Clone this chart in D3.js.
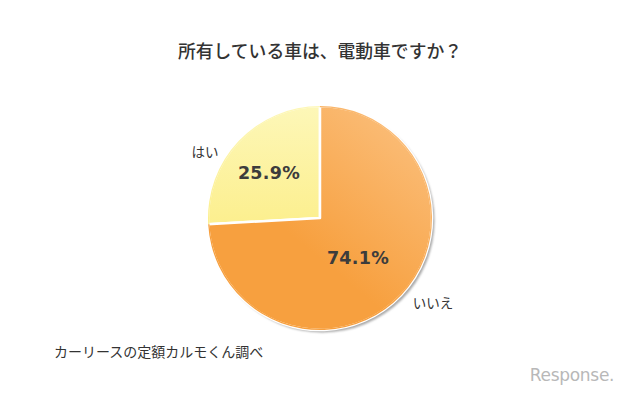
<!DOCTYPE html>
<html><head><meta charset="utf-8">
<script src="https://cdn.jsdelivr.net/npm/d3@7"></script>
<style>body{margin:0;background:#fff;}svg{display:block;}</style>
</head><body>
<script>
const categories = ["はい", "いいえ"];
const values = [25.9, 74.1];
const valueLabels = ["25.9%", "74.1%"];
const title = "所有している車は、電動車ですか？";
const source = "カーリースの定額カルモくん調べ";

const W = 640, H = 393;
const svg = d3.select("body").append("svg").attr("width", W).attr("height", H);
const defs = svg.append("defs");
const cx = 320, cy = 218, r = 112;

const gY = defs.append("linearGradient").attr("id","gY").attr("x1","0").attr("y1","0").attr("x2","0").attr("y2","1");
gY.append("stop").attr("offset","0").attr("stop-color","#fdf7b8");
gY.append("stop").attr("offset","1").attr("stop-color","#fcef8e");
const gO = defs.append("linearGradient").attr("id","gO").attr("x1","0.9").attr("y1","0").attr("x2","0.4").attr("y2","0.6");
gO.append("stop").attr("offset","0").attr("stop-color","#fbc07e");
gO.append("stop").attr("offset","1").attr("stop-color","#f7a03f");
const blur = defs.append("filter").attr("id","sh").attr("x","-10%").attr("y","-10%").attr("width","120%").attr("height","120%");
blur.append("feGaussianBlur").attr("stdDeviation", 1.2);

svg.append("text").attr("x", 320).attr("y", 58).attr("text-anchor","middle")
  .attr("font-family","Noto Sans CJK JP").attr("font-weight", 500).attr("font-size", 17.8).attr("fill","#333")
  .text(title);

const pie = d3.pie().sort(null).value(d => d)
  .startAngle(0).endAngle(-2*Math.PI);
const arcs = pie(values);
const arc = d3.arc().innerRadius(0).outerRadius(r);

const g = svg.append("g").attr("transform", `translate(${cx},${cy})`);
g.append("circle").attr("cx", 2.5).attr("cy", 2.5).attr("r", r).attr("fill","#a8a8a8").attr("filter","url(#sh)");
const fills = ["url(#gY)", "url(#gO)"];
g.selectAll("path.s").data(arcs).join("path").attr("class","s")
  .attr("d", arc).attr("fill", (d,i) => fills[i]).attr("stroke","#fff").attr("stroke-width", 2.5).attr("stroke-linejoin","round");
g.selectAll("path.o").data(arcs).join("path").attr("class","o")
  .attr("d", d3.arc().innerRadius(r-1.3).outerRadius(r)).attr("fill", (d,i) => fills[i]);

const pctPos = [[-51, -45], [38, 40]];
g.selectAll("text.p").data(arcs).join("text").attr("class","p")
  .attr("x", (d,i) => pctPos[i][0]).attr("y", (d,i) => pctPos[i][1])
  .attr("text-anchor","middle").attr("dominant-baseline","central")
  .attr("font-family","DejaVu Sans").attr("font-weight", 700).attr("font-size", 17.5).attr("fill","#3c3c3c")
  .attr("letter-spacing", 0.3)
  .text((d,i) => valueLabels[i]);

const catPos = [[205, 151], [433, 302]];
svg.selectAll("text.c").data(categories).join("text").attr("class","c")
  .attr("x", (d,i) => catPos[i][0]).attr("y", (d,i) => catPos[i][1])
  .attr("text-anchor","middle").attr("dominant-baseline","central")
  .attr("font-family","Noto Sans CJK JP").attr("font-size", 13.5).attr("fill","#333")
  .text(d => d);

svg.append("text").attr("x", 54).attr("y", 357)
  .attr("font-family","Noto Sans CJK JP").attr("font-size", 14).attr("fill","#333")
  .text(source);

svg.append("text").attr("x", 572).attr("y", 381).attr("text-anchor","middle")
  .attr("font-family","DejaVu Sans").attr("font-size", 17).attr("fill","#b8b8b8").attr("letter-spacing", -0.3)
  .text("Response.");
</script>
</body></html>
